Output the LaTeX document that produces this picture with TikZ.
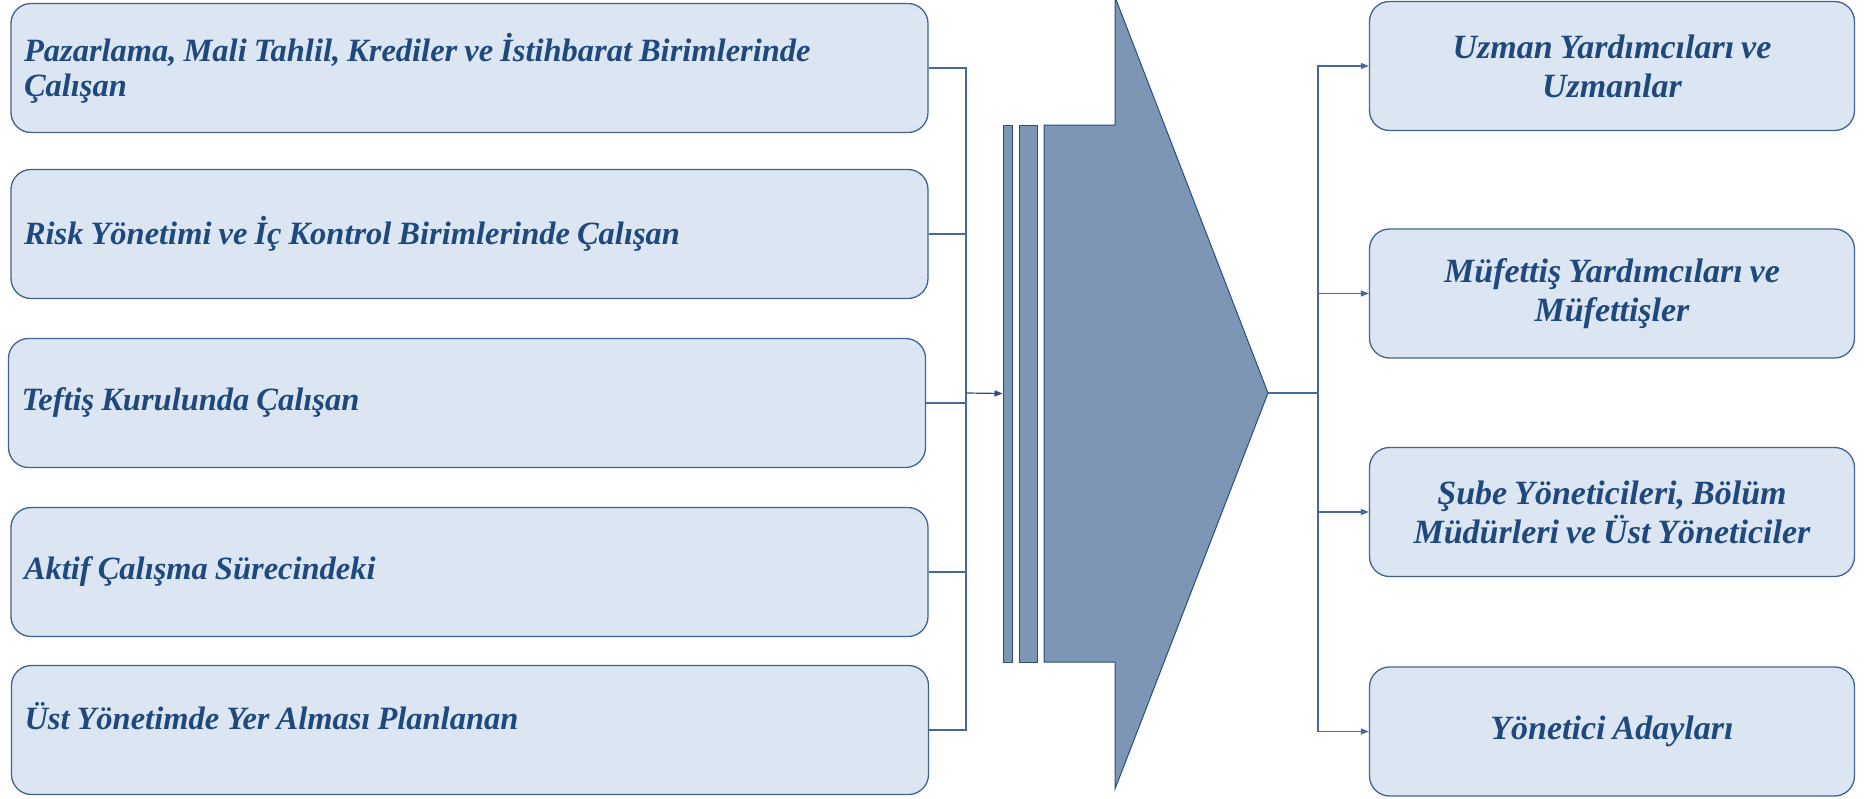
\documentclass[tikz,border=0pt]{standalone}
\usepackage{fontspec}
\setmainfont{Liberation Serif}
\usepackage{tikz}
\usetikzlibrary{arrows.meta}
\definecolor{boxfill}{HTML}{DCE6F2}
\definecolor{boxline}{HTML}{41648F}
\definecolor{txtblue}{HTML}{1F497D}
\definecolor{flowfill}{HTML}{7D96B6}
\definecolor{flowline}{HTML}{2B4E7F}
\definecolor{linkline}{HTML}{4569A0}

\begin{document}
\begin{tikzpicture}[x=1pt,y=-1pt,
	srcbox/.style={draw=boxline,line width=1.3pt,fill=boxfill,rounded corners=20pt,minimum height=129pt,text width=891pt,inner xsep=13pt,align=left,text=txtblue,font=\fontsize{32.5}{35}\selectfont\bfseries\itshape,execute at begin node={\spaceskip=7pt\relax}},
	dstbox/.style={draw=boxline,line width=1.3pt,fill=boxfill,rounded corners=20pt,minimum width=485pt,minimum height=129pt,text width=460pt,align=center,text=txtblue,font=\fontsize{34}{39}\selectfont\bfseries\itshape,execute at begin node={\spaceskip=7pt\relax}},
	bar/.style={draw=flowline,line width=1pt,fill=flowfill,minimum height=537pt,inner sep=0pt},
	link/.style={draw=linkline,line width=1.2pt},
	tip/.style={-{Triangle[length=8pt,width=6pt]}}]

	\useasboundingbox (0,0) rectangle (1866,798);

	\node[srcbox] (A) at (469.5,68) {Pazarlama, Mali Tahlil, Krediler ve İstihbarat Birimlerinde\\Çalışan};
	\node[srcbox] (B) at (469.5,234) {Risk Yönetimi ve İç Kontrol Birimlerinde Çalışan};
	\node[srcbox] (C) at (467,403) {Teftiş Kurulunda Çalışan};
	\node[srcbox] (D) at (469.5,572) {Aktif Çalışma Sürecindeki};
	\node[srcbox] (E) at (470,730) {\raisebox{28pt}{Üst Yönetimde Yer Alması Planlanan}};

	\node[dstbox] (a) at (1612,66) {Uzman Yardımcıları ve\\Uzmanlar};
	\node[dstbox] (b) at (1612,293.5) {Müfettiş Yardımcıları ve\\Müfettişler};
	\node[dstbox] (c) at (1612,512) {Şube Yöneticileri, Bölüm\\Müdürleri ve Üst Yöneticiler};
	\node[dstbox] (d) at (1612,731.5) {Yönetici Adayları};

	\node[bar,minimum width=9pt] (bar1) at (1007.5,393.5) {};
	\node[bar,minimum width=18pt] (bar2) at (1028,393.5) {};
	\draw [draw=flowline,fill=flowfill,line width=1pt] (1044,125) -- (1115,125) -- (1115,-3) -- (1268,393) coordinate (tip) -- (1115,789) -- (1115,662) -- (1044,662) -- cycle;

	\coordinate (busL) at (966,393);
	\coordinate (busR) at (1318,393);

	\draw [link] (A.east) -| (busL);
	\draw [link] (B.east) -| (busL);
	\draw [link] (C.east) -| (busL);
	\draw [link] (D.east) -| (busL);
	\draw [link] (E.east) -| (busL);
	\draw [link,draw=flowline,tip] (busL) -- (bar1.west);

	\draw [link] (tip) -- (busR);
	\draw [link,tip] (busR) |- (a.west);
	\draw [link,tip] (busR) |- (b.west);
	\draw [link,tip] (busR) |- (c.west);
	\draw [link,tip] (busR) |- (d.west);

\end{tikzpicture}
\end{document}
